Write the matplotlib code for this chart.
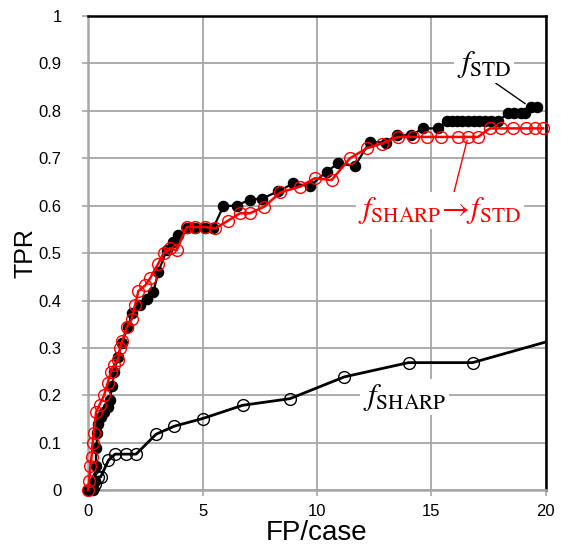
import matplotlib.pyplot as plt
import numpy as np

plt.rcParams['mathtext.fontset'] = 'stix'
plt.rcParams['font.family'] = ['Liberation Sans', 'DejaVu Sans']

# f_STD (filled black dots)
std_x = [0, 0.1, 0.2, 0.3, 0.33, 0.36, 0.4, 0.45, 0.55, 0.7, 0.85, 0.95, 1.05, 1.15,
         1.3, 1.47, 1.76, 1.9, 2.27, 2.56, 2.85, 3.07, 3.43, 3.73, 3.95, 4.31, 4.67,
         5.1, 5.47, 5.91, 6.49, 7.07, 7.6, 8.3, 8.97, 9.69, 10.42, 10.93, 11.66, 12.31,
         13.0, 13.48, 14.13, 14.64, 15.3, 15.66, 15.9, 16.1, 16.35, 16.6, 16.85, 17.1,
         17.35, 17.6, 17.9, 18.35, 18.6, 18.9, 19.1, 19.37, 19.6]
std_y = [0, 0, 0, 0.02, 0.05, 0.09, 0.12, 0.14, 0.155, 0.165, 0.175, 0.19, 0.22, 0.25,
         0.28, 0.31, 0.345, 0.373, 0.39, 0.404, 0.418, 0.46, 0.506, 0.524, 0.538, 0.553,
         0.553, 0.553, 0.553, 0.599, 0.6, 0.613, 0.615, 0.63, 0.647, 0.641, 0.672, 0.689,
         0.684, 0.735, 0.733, 0.749, 0.749, 0.763, 0.763, 0.778, 0.778, 0.778, 0.778,
         0.778, 0.778, 0.778, 0.778, 0.778, 0.778, 0.795, 0.795, 0.795, 0.795, 0.809, 0.809]

# f_SHARP -> f_STD (red open circles)
mix_x = [0, 0.05, 0.1, 0.15, 0.2, 0.25, 0.35, 0.5, 0.7, 0.85, 1.0, 1.15, 1.3, 1.4, 1.5,
         1.7, 1.9, 2.05, 2.2, 2.5, 2.71, 3.07, 3.3, 3.58, 3.87, 4.31, 4.67, 5.1, 5.55,
         6.1, 6.64, 7.07, 7.7, 8.4, 9.26, 9.91, 10.64, 11.44, 12.17, 12.82, 13.55, 14.2,
         14.79, 15.44, 16.17, 16.61, 17.04, 17.55, 18.06, 18.57, 19.15, 19.52, 19.88]
mix_y = [0, 0.02, 0.05, 0.07, 0.1, 0.12, 0.165, 0.18, 0.2, 0.225, 0.25, 0.265, 0.275,
         0.3, 0.315, 0.345, 0.36, 0.39, 0.42, 0.432, 0.447, 0.478, 0.5, 0.51, 0.506,
         0.555, 0.555, 0.555, 0.552, 0.568, 0.584, 0.584, 0.598, 0.628, 0.64, 0.658,
         0.654, 0.7, 0.721, 0.731, 0.745, 0.745, 0.745, 0.745, 0.745, 0.745, 0.745,
         0.763, 0.763, 0.763, 0.763, 0.763, 0.763]

# f_SHARP (black open circles)
sharp_x = [0, 0.2, 0.3, 0.45, 0.55, 0.89, 1.18, 1.65, 2.1, 2.97, 3.77, 5.0, 6.75, 8.82,
           11.2, 14.0, 16.8, 20.4]
sharp_y = [0, 0, 0.014, 0.028, 0.028, 0.063, 0.076, 0.076, 0.076, 0.118, 0.135, 0.151,
           0.179, 0.193, 0.239, 0.269, 0.269, 0.318]

fig = plt.figure(figsize=(5.61, 5.52), dpi=100)
ax = fig.add_axes([0.157, 0.112, 0.816, 0.859])

ax.plot(std_x, std_y, '-o', color='black', lw=1.6, ms=7.3, clip_on=False, zorder=3)
ax.plot(mix_x, mix_y, '-o', color='red', lw=1.8, ms=8.5, mfc='none', mew=1.0,
        clip_on=False, zorder=4)
ax.plot(sharp_x, sharp_y, '-o', color='black', lw=2.0, ms=8.5, mfc='none', mew=1.0,
        zorder=3)

ax.set_xlim(0, 20)
ax.set_ylim(0, 1)
ax.set_xticks(np.arange(0, 21, 5))
ax.set_yticks(np.arange(0, 1.01, 0.1))
ax.set_yticklabels(['0'] + ['%.1f' % v for v in np.arange(0.1, 1.0, 0.1)] + ['1'])
ax.grid(True, color='#a6a6a6', lw=1.3)
ax.set_axisbelow(True)
ax.tick_params(labelsize=12, length=4, width=1.2, color='#a6a6a6')
ax.tick_params(axis='y', pad=15)
ax.tick_params(axis='x', pad=6)
for s in ['left', 'bottom']:
    ax.spines[s].set_color('#a6a6a6')
    ax.spines[s].set_linewidth(1.8)
for s in ['top', 'right']:
    ax.spines[s].set_color('black')
    ax.spines[s].set_linewidth(1.8)

ax.set_xlabel('FP/case', fontsize=20, labelpad=1)
ax.set_ylabel('TPR', fontsize=18, labelpad=1)

box = dict(facecolor='white', edgecolor='none', pad=2)
ax.annotate(r'$f_{\mathrm{STD}}$', xy=(19.1, 0.815), xytext=(17.3, 0.897),
            fontsize=22, ha='center', va='center', bbox=box, zorder=5,
            arrowprops=dict(arrowstyle='-', color='black', lw=1.0,
                            shrinkA=0, shrinkB=0, relpos=(0.6, 0.05)))
ax.annotate(r'$f_{\mathrm{SHARP}}\!\rightarrow\! f_{\mathrm{STD}}$', xy=(16.56, 0.738),
            xytext=(15.37, 0.59), fontsize=22, color='red', ha='center', va='center',
            bbox=box, zorder=5,
            arrowprops=dict(arrowstyle='-', color='red', lw=1.0, shrinkA=0, shrinkB=0,
                            relpos=(0.58, 0.95)))
ax.text(13.84, 0.196, r'$f_{\mathrm{SHARP}}$', fontsize=22, ha='center', va='center',
        bbox=box, zorder=5)

fig.savefig('out.png', dpi=100)
